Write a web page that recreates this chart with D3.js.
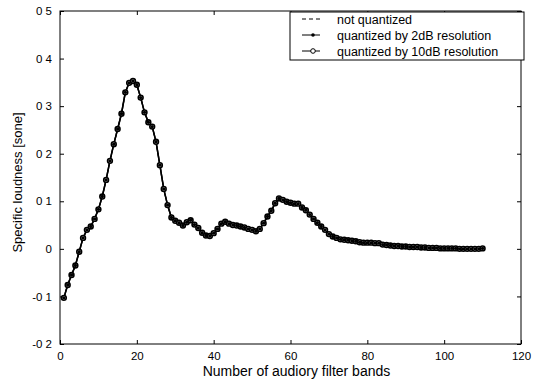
<!DOCTYPE html>
<html>
<head>
<meta charset="utf-8">
<script src="https://cdn.jsdelivr.net/npm/d3@7"></script>
<style>
  body { margin: 0; background: #fff; }
  svg { display: block; font-family: "Liberation Sans", Arial, sans-serif; }
</style>
</head>
<body>
<svg id="chart"></svg>
<script>
// band numbers 1..110
let bands = d3.range(1, 111)

// specific loudness [sone] (all three curves overlap)
let notQuantized = [
  -0.103, -0.076, -0.055, -0.035, -0.006, 0.023, 0.040, 0.047, 0.063, 0.083,
  0.110, 0.145, 0.185, 0.220, 0.252, 0.284, 0.329, 0.349, 0.353, 0.345,
  0.318, 0.287, 0.266, 0.257, 0.225, 0.176, 0.126, 0.092, 0.066, 0.059,
  0.055, 0.049, 0.056, 0.060, 0.051, 0.044, 0.034, 0.028, 0.027, 0.033,
  0.042, 0.053, 0.057, 0.053, 0.050, 0.049, 0.047, 0.045, 0.042, 0.040,
  0.037, 0.042, 0.054, 0.068, 0.080, 0.096, 0.106, 0.103, 0.099, 0.097,
  0.095, 0.095, 0.087, 0.081, 0.072, 0.063, 0.055, 0.047, 0.040, 0.031,
  0.026, 0.023, 0.020, 0.019, 0.018, 0.017, 0.016, 0.014, 0.013, 0.013,
  0.013, 0.012, 0.012, 0.009, 0.008, 0.007, 0.006, 0.006, 0.005, 0.005,
  0.004, 0.004, 0.004, 0.003, 0.003, 0.002, 0.002, 0.002, 0.001, 0.001,
  0.001, 0.001, 0.001, 0.000, 0.000, 0.000, 0.000, 0.000, 0.000, 0.001
]
let quantized2dB = notQuantized.slice()
let quantized10dB = notQuantized.slice()

let legendLabels = ['not quantized', 'quantized by 2dB resolution', 'quantized by 10dB resolution']
let xTicks = [0, 20, 40, 60, 80, 100, 120]
let yTicks = [-0.2, -0.1, 0, 0.1, 0.2, 0.3, 0.4, 0.5]
let yTickLabels = ['-0 2', '-0 1', '0', '0 1', '0 2', '0 3', '0 4', '0 5']

let width = 542
let height = 384
let padLeft = 60, padRight = 521, padTop = 11, padBottom = 344

let svg = d3.select('#chart').attr('width', width).attr('height', height)

let xScale = d3.scaleLinear().domain([0, 120]).range([padLeft, padRight])
let yScale = d3.scaleLinear().domain([-0.2, 0.5]).range([padBottom, padTop])

// axes box with inward ticks on all four sides
let tickLen = 4
svg.append('g')
  .attr('transform', 'translate(0,' + padBottom + ')')
  .call(d3.axisBottom(xScale).tickValues(xTicks).tickSizeInner(-tickLen).tickSizeOuter(0).tickPadding(8))
  .call(g => g.select('.domain').remove())
svg.append('g')
  .attr('transform', 'translate(0,' + padTop + ')')
  .call(d3.axisTop(xScale).tickValues(xTicks).tickSizeInner(-tickLen).tickSizeOuter(0).tickFormat(''))
  .call(g => g.select('.domain').remove())
svg.append('g')
  .attr('transform', 'translate(' + padLeft + ',0)')
  .call(d3.axisLeft(yScale).tickValues(yTicks).tickSizeInner(-tickLen).tickSizeOuter(0).tickPadding(8)
    .tickFormat((d, i) => yTickLabels[i]))
  .call(g => g.select('.domain').remove())
svg.append('g')
  .attr('transform', 'translate(' + padRight + ',0)')
  .call(d3.axisRight(yScale).tickValues(yTicks).tickSizeInner(-tickLen).tickSizeOuter(0).tickFormat(''))
  .call(g => g.select('.domain').remove())

svg.selectAll('.tick text').attr('font-size', 11.5).attr('fill', '#000')
  .attr('font-family', '"Liberation Sans", Arial, sans-serif')
svg.selectAll('.tick line').attr('stroke', '#000')

svg.append('rect')
  .attr('x', padLeft).attr('y', padTop)
  .attr('width', padRight - padLeft).attr('height', padBottom - padTop)
  .attr('fill', 'none').attr('stroke', '#000').attr('stroke-width', 1)

// axis titles
svg.append('text')
  .attr('x', (padLeft + padRight) / 2 + 6).attr('y', 376)
  .attr('text-anchor', 'middle').attr('font-size', 14)
  .text('Number of audiory filter bands')
svg.append('text')
  .attr('transform', 'translate(22,' + ((padTop + padBottom) / 2 + 5) + ') rotate(-90)')
  .attr('text-anchor', 'middle').attr('font-size', 13)
  .text('Specific loudness [sone]')

// curves
let line = d3.line()
  .x((d, i) => xScale(bands[i]))
  .y(d => yScale(d))

svg.append('path').datum(notQuantized)
  .attr('d', line).attr('fill', 'none').attr('stroke', '#000')
  .attr('stroke-width', 1).attr('stroke-dasharray', '4,3')

svg.append('path').datum(quantized2dB)
  .attr('d', line).attr('fill', 'none').attr('stroke', '#000').attr('stroke-width', 1.5)

svg.append('path').datum(quantized10dB)
  .attr('d', line).attr('fill', 'none').attr('stroke', '#000').attr('stroke-width', 1.5)

svg.append('g').selectAll('circle')
  .data(quantized10dB)
  .enter()
  .append('circle')
  .attr('cx', (d, i) => xScale(bands[i]))
  .attr('cy', d => yScale(d))
  .attr('r', 2.4)
  .attr('fill', '#fff').attr('stroke', '#000').attr('stroke-width', 1.6)

svg.append('g').selectAll('circle')
  .data(quantized2dB)
  .enter()
  .append('circle')
  .attr('cx', (d, i) => xScale(bands[i]))
  .attr('cy', d => yScale(d))
  .attr('r', 1.7)
  .attr('fill', '#000')

// legend
let lx = 290, ly = 12, lw = 234, lh = 48
let legend = svg.append('g')
legend.append('rect')
  .attr('x', lx).attr('y', ly).attr('width', lw).attr('height', lh)
  .attr('fill', '#fff').attr('stroke', '#000')

legendLabels.forEach((label, i) => {
  let y = ly + 7 + i * 16
  let row = legend.append('g')
  row.append('line')
    .attr('x1', lx + 12).attr('x2', lx + 30).attr('y1', y).attr('y2', y)
    .attr('stroke', '#000').attr('stroke-dasharray', i === 0 ? '4,3' : null)
  if (i === 1) {
    row.append('circle').attr('cx', lx + 23).attr('cy', y).attr('r', 1.8).attr('fill', '#000')
  }
  if (i === 2) {
    row.append('circle').attr('cx', lx + 23).attr('cy', y).attr('r', 2.3)
      .attr('fill', '#fff').attr('stroke', '#000')
  }
  row.append('text')
    .attr('x', lx + 47).attr('y', y + 4.5)
    .attr('font-size', 12.5)
    .text(label)
})
</script>
</body>
</html>
